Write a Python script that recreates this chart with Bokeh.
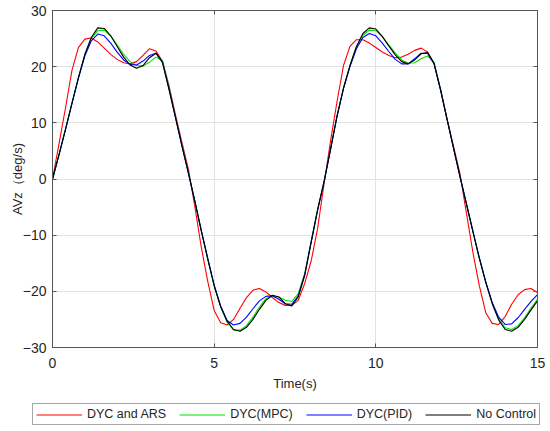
from bokeh.plotting import figure
from bokeh.models import Range1d, FixedTicker, LinearAxis, Legend, LegendItem
from bokeh.layouts import column, row
from bokeh.embed import file_html
from bokeh.resources import INLINE

TIME = [0.0, 0.2, 0.4, 0.6, 0.8, 1.0, 1.2, 1.4, 1.6, 1.8,
        2.0, 2.2, 2.4, 2.6, 2.8, 3.0, 3.2, 3.4, 3.6, 3.8,
        4.0, 4.2, 4.4, 4.6, 4.8, 5.0, 5.2, 5.4, 5.6, 5.8,
        6.0, 6.2, 6.4, 6.6, 6.8, 7.0, 7.2, 7.4, 7.6, 7.8,
        8.0, 8.2, 8.4, 8.6, 8.8, 9.0, 9.2, 9.4, 9.6, 9.8,
        10.0, 10.2, 10.4, 10.6, 10.8, 11.0, 11.2, 11.4, 11.6, 11.8,
        12.0, 12.2, 12.4, 12.6, 12.8, 13.0, 13.2, 13.4, 13.6, 13.8,
        14.0, 14.2, 14.4, 14.6, 14.8, 15.0]

DYC_ARS = [0.0, 6.2, 12.6, 19.3, 23.4, 24.9, 25.1, 24.4, 23.3, 22.2,
           21.3, 20.7, 20.5, 20.9, 22.0, 23.2, 22.8, 21.0, 16.7, 11.5,
           6.6, 1.8, -4.8, -12.1, -18.2, -23.4, -25.6, -26.0, -25.0, -23.0,
           -21.1, -19.8, -19.5, -20.1, -21.1, -22.0, -22.5, -22.5, -21.6, -18.6,
           -14.6, -8.8, -0.8, 6.8, 13.8, 20.2, 23.6, 24.8, 24.8, 24.2,
           23.4, 22.6, 22.0, 21.6, 21.7, 22.2, 22.9, 23.3, 22.6, 20.6,
           15.9, 10.7, 5.9, 1.0, -6.0, -13.0, -19.0, -23.8, -25.7, -25.9,
           -24.5, -22.3, -20.6, -19.7, -19.5, -20.2]

DYC_MPC = [0.0, 4.3, 8.8, 13.4, 18.0, 22.1, 25.0, 26.4, 26.5, 25.5,
           23.9, 22.2, 20.9, 20.2, 20.1, 20.8, 21.7, 21.1, 16.4, 11.2,
           6.1, 1.2, -3.9, -9.2, -14.2, -19.0, -22.8, -25.5, -26.9, -26.9,
           -26.1, -24.6, -22.8, -21.3, -20.8, -21.0, -21.6, -21.8, -20.4, -16.8,
           -11.1, -5.4, -0.4, 5.3, 11.2, 16.2, 20.2, 23.5, 25.6, 26.5,
           26.4, 25.3, 23.9, 22.4, 21.2, 20.6, 20.7, 21.4, 21.9, 20.8,
           16.1, 10.8, 5.6, 0.5, -4.4, -9.3, -14.1, -18.4, -22.1, -24.9,
           -26.5, -26.8, -26.1, -24.7, -23.0, -21.4]

DYC_PID = [0.0, 4.3, 8.8, 13.4, 17.9, 21.9, 24.6, 25.8, 25.5, 24.2,
           22.6, 21.2, 20.4, 20.3, 21.0, 22.0, 22.4, 20.8, 16.2, 11.1,
           6.0, 1.1, -3.9, -9.1, -14.1, -18.9, -22.6, -25.2, -26.0, -25.7,
           -24.6, -23.1, -21.7, -20.9, -20.8, -21.4, -22.2, -22.3, -20.8, -17.0,
           -11.2, -5.5, -0.4, 5.3, 11.2, 16.1, 20.0, 23.2, 25.2, 25.9,
           25.5, 24.2, 22.7, 21.3, 20.5, 20.5, 21.4, 22.4, 22.4, 20.5,
           15.9, 10.7, 5.6, 0.5, -4.4, -9.3, -14.0, -18.3, -22.0, -24.6,
           -25.9, -25.8, -24.7, -23.2, -21.8, -20.6]

NO_CONTROL = [0.0, 4.3, 8.8, 13.4, 18.0, 22.2, 25.2, 26.9, 26.8, 25.5,
              23.6, 21.7, 20.3, 19.7, 20.2, 21.6, 22.4, 20.8, 16.0, 11.0,
              6.0, 1.2, -3.9, -9.2, -14.2, -19.0, -22.7, -25.3, -26.8, -27.1,
              -26.4, -25.0, -23.2, -21.6, -20.7, -21.0, -22.2, -22.6, -21.0, -17.2,
              -11.3, -5.5, -0.5, 5.3, 11.2, 16.2, 20.2, 23.6, 25.9, 26.9,
              26.7, 25.4, 23.7, 22.1, 20.9, 20.5, 21.2, 22.3, 22.5, 20.6,
              15.9, 10.7, 5.6, 0.5, -4.4, -9.3, -14.1, -18.4, -22.2, -25.1,
              -26.8, -27.1, -26.4, -25.0, -23.3, -21.7]

SERIES = [DYC_ARS, DYC_MPC, DYC_PID, NO_CONTROL]
SERIES_NAMES = ["DYC and ARS", "DYC(MPC)", "DYC(PID)", "No Control"]
SERIES_COLORS = ["#ff0000", "#00e000", "#0000ff", "#000000"]
XTICKS = [0, 5, 10, 15]
YTICKS = [-30, -20, -10, 0, 10, 20, 30]

FONT = "Liberation Sans"
AXIS_COLOR = "#555555"
TEXT_COLOR = "#262626"

# ---- main plot ----
p = figure(width=550, height=397, x_range=Range1d(0, 15), y_range=Range1d(-30, 30),
           output_backend="svg", toolbar_location=None,
           min_border_left=52, min_border_right=13, min_border_top=10, min_border_bottom=50,
           background_fill_color="white", border_fill_color="white")

p.outline_line_color = AXIS_COLOR
p.outline_line_width = 1

for ax in (p.xaxis[0], p.yaxis[0]):
    ax.major_tick_in = 4
    ax.major_tick_out = 0
    ax.minor_tick_line_color = None
    ax.axis_line_color = AXIS_COLOR
    ax.major_tick_line_color = AXIS_COLOR
    ax.major_label_text_font = FONT
    ax.major_label_text_font_size = "14px"
    ax.major_label_text_color = TEXT_COLOR
    ax.axis_label_text_font = FONT
    ax.axis_label_text_font_size = "13px"
    ax.axis_label_text_font_style = "normal"
    ax.axis_label_text_color = TEXT_COLOR

p.xaxis.ticker = FixedTicker(ticks=XTICKS)
p.yaxis.ticker = FixedTicker(ticks=YTICKS)
p.xaxis.axis_label = "Time(s)"
p.yaxis.axis_label = "AVz（deg/s)"
p.xaxis.major_label_standoff = 10
p.xaxis.axis_label_standoff = 5
p.yaxis.major_label_standoff = 6
p.yaxis.axis_label_standoff = -5

for loc, tick in (("right", YTICKS), ("above", XTICKS)):
    ax = LinearAxis(ticker=FixedTicker(ticks=tick), major_tick_in=4, major_tick_out=0,
                    minor_tick_line_color=None, axis_line_color=AXIS_COLOR,
                    major_tick_line_color=AXIS_COLOR, major_label_text_font_size="1px",
                    major_label_text_color=None, major_label_standoff=0)
    p.add_layout(ax, loc)

p.xgrid.ticker = FixedTicker(ticks=XTICKS)
p.ygrid.ticker = FixedTicker(ticks=YTICKS)
p.grid.grid_line_color = "#e2e2e2"
p.grid.grid_line_width = 1

for vals, color in zip(SERIES, SERIES_COLORS):
    p.line(TIME, vals, line_color=color, line_width=1.1, line_join="round")

# ---- legend strip below the plot ----
leg = figure(width=550, height=34, x_range=Range1d(0, 15), y_range=Range1d(-30, 30),
             output_backend="svg", toolbar_location=None,
             x_axis_type=None, y_axis_type=None,
             min_border_left=0, min_border_right=0, min_border_top=0, min_border_bottom=0,
             background_fill_color="white", border_fill_color="white")
leg.outline_line_color = None
leg.grid.visible = False

# one-point lines (nothing visible is drawn) that only carry the legend glyph styles
legend_renderers = [leg.line(x=TIME[:1], y=vals[:1], line_color=c, line_width=1.1)
                    for vals, c in zip(SERIES, SERIES_COLORS)]
legend = Legend(items=[LegendItem(label=n, renderers=[r])
                       for n, r in zip(SERIES_NAMES, legend_renderers)],
                orientation="horizontal", location=(32, 6),
                label_text_font=FONT, label_text_font_size="12.5px", label_text_color=TEXT_COLOR,
                glyph_width=46, glyph_height=11, label_height=11, label_standoff=5,
                spacing=13, padding=3, margin=0,
                border_line_color="#4d4d4d", border_line_width=1,
                background_fill_color="white", background_fill_alpha=1.0)
leg.add_layout(legend)

layout = column(p, row(leg, spacing=0), spacing=0)
open("out.html", "w").write(file_html(layout, INLINE))
